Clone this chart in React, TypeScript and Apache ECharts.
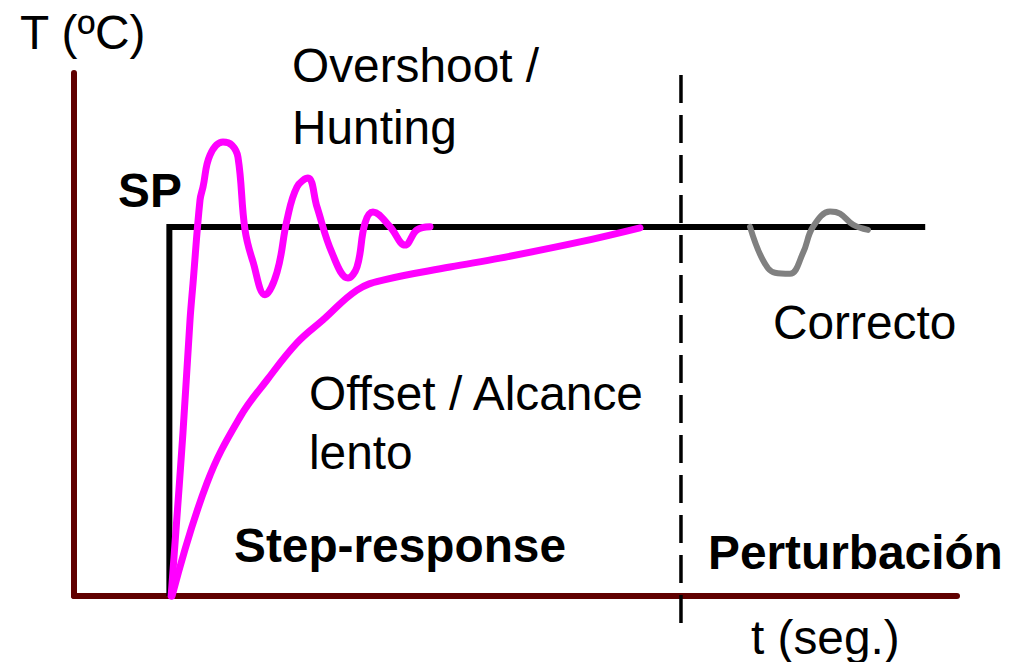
import React, { useEffect, useRef } from "react";
import * as echarts from "echarts";

// Time (t) and temperature (T) in arbitrary plot units, 0..100 on both axes.
const setPoint: number[][] = [
  [10.8, 0], [10.8, 70.55], [96.4, 70.55],
];

const overshootResponse: number[][] = [
  [11.0, 0], [12.34, 31.2], [13.14, 52.8], [13.48, 59.8], [14.27, 75.7],
  [14.61, 78.2], [15.4, 84.3], [16.87, 86.8], [17.89, 86.2], [18.57, 83.9],
  [19.37, 70.0], [20.27, 63.9], [21.63, 57.6], [22.99, 61.9], [24.12, 71.9],
  [25.25, 78.2], [26.5, 79.9], [27.52, 74.4], [29.22, 65.6], [31.03, 60.8],
  [32.05, 62.9], [32.96, 71.3], [33.86, 73.4], [35.79, 70.6], [37.49, 67.1],
  [38.84, 70.0], [40.32, 70.6],
];

const slowResponse: number[][] = [
  [11.1, 0], [15.06, 21.6], [18.8, 34.2], [21.86, 41.3], [25.25, 48.4],
  [28.2, 52.8], [32.05, 58.5], [34.99, 60.4], [42.58, 62.9], [48.24, 64.6],
  [57.3, 67.7], [64.1, 70.4],
];

const disturbanceResponse: number[][] = [
  [76.56, 70.6], [78.03, 64.2], [79.39, 61.8], [81.09, 61.6], [82.56, 65.6],
  [83.69, 70.6], [85.62, 73.5], [86.75, 73.1], [88.22, 71.0], [89.92, 70.0],
];

const disturbanceMarker: number[][] = [
  [68.74, 99.6], [68.74, -6.5],
];

const FONT = '"Liberation Sans", Arial, Helvetica, sans-serif';
const SIZE = 47.8;

type Label = { text: string; x: number; y: number; bold?: boolean };
const labels: Label[] = [
  { text: "T (ºC)", x: 20, y: 32 },
  { text: "Overshoot /", x: 292, y: 65 },
  { text: "Hunting", x: 292, y: 127 },
  { text: "SP", x: 118, y: 190, bold: true },
  { text: "Correcto", x: 773, y: 322 },
  { text: "Offset / Alcance", x: 309, y: 393 },
  { text: "lento", x: 309, y: 452 },
  { text: "Step-response", x: 234, y: 545, bold: true },
  { text: "Perturbación", x: 708, y: 552, bold: true },
  { text: "t (seg.)", x: 751, y: 637 },
];

export default function App() {
  const ref = useRef<HTMLDivElement>(null);

  useEffect(() => {
    if (!ref.current) return;
    const chart = echarts.init(ref.current, undefined, { renderer: "svg" });
    const axisColor = "#600000";

    chart.setOption({
      animation: false,
      backgroundColor: "#ffffff",
      grid: { left: 74, right: 62, top: 73, bottom: 66 },
      xAxis: {
        type: "value",
        min: 0,
        max: 100,
        axisLine: { show: true, onZero: false, lineStyle: { color: axisColor, width: 6 } },
        axisTick: { show: false },
        axisLabel: { show: false },
        splitLine: { show: false },
      },
      yAxis: {
        type: "value",
        min: 0,
        max: 100,
        axisLine: { show: true, onZero: false, lineStyle: { color: axisColor, width: 6 } },
        axisTick: { show: false },
        axisLabel: { show: false },
        splitLine: { show: false },
      },
      series: [
        {
          name: "Perturbación",
          type: "line",
          data: disturbanceMarker,
          showSymbol: false,
          clip: false,
          silent: true,
          lineStyle: { color: "#000000", width: 3.5, type: [28, 12] },
          z: 1,
        },
        {
          name: "SP",
          type: "line",
          data: setPoint,
          showSymbol: false,
          clip: false,
          silent: true,
          lineStyle: { color: "#000000", width: 6, join: "miter" },
          z: 2,
        },
        {
          name: "Overshoot / Hunting",
          type: "line",
          data: overshootResponse,
          smooth: 0.4,
          showSymbol: false,
          clip: false,
          silent: true,
          lineStyle: { color: "#ff00ff", width: 7, cap: "round", join: "round" },
          z: 3,
        },
        {
          name: "Offset / Alcance lento",
          type: "line",
          data: slowResponse,
          smooth: 0.4,
          showSymbol: false,
          clip: false,
          silent: true,
          lineStyle: { color: "#ff00ff", width: 7, cap: "round", join: "round" },
          z: 3,
        },
        {
          name: "Correcto",
          type: "line",
          data: disturbanceResponse,
          smooth: 0.4,
          showSymbol: false,
          clip: false,
          silent: true,
          lineStyle: { color: "#808080", width: 6, cap: "round", join: "round" },
          z: 3,
        },
      ],
      graphic: labels.map((l) => ({
        type: "text",
        x: l.x,
        y: l.y,
        silent: true,
        style: {
          text: l.text,
          fill: "#000000",
          font: `${l.bold ? "bold " : ""}${SIZE}px ${FONT}`,
          textAlign: "left",
          textVerticalAlign: "middle",
        },
      })),
    });

    return () => chart.dispose();
  }, []);

  return (
    <div
      ref={ref}
      style={{ position: "fixed", left: 0, top: 0, width: 1019, height: 662 }}
    />
  );
}
